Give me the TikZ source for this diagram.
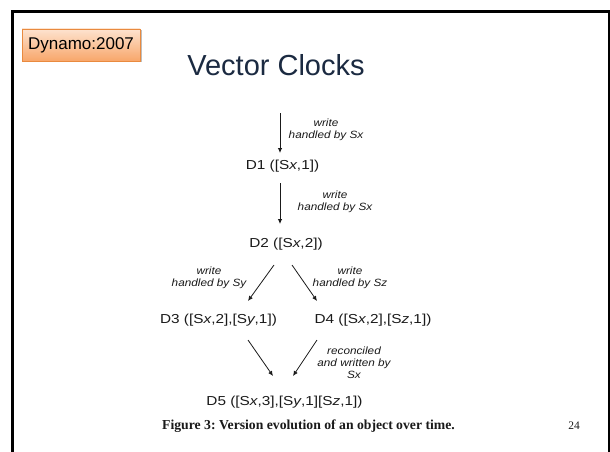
\documentclass[tikz,border=0pt]{standalone}
\usepackage{fontspec}
\usepackage{graphicx}
\setmainfont{Liberation Serif}
\setsansfont{Liberation Sans}
\usetikzlibrary{arrows.meta,calc}
\frenchspacing

\definecolor{titleblue}{HTML}{1B2A41}
\definecolor{tagedge}{HTML}{E98A3F}
\definecolor{tagtop}{HTML}{FDE3CF}
\definecolor{tagbot}{HTML}{F8A66A}
\definecolor{ink}{HTML}{1A1A1A}

% horizontally widened sans text, as in the figure
\newcommand\widetext[2]{\scalebox{#1}[1]{#2}}
\newcommand\ver[1]{\widetext{1.18}{#1}}
\newcommand\lbl[1]{\widetext{1.12}{#1}}

\tikzset{
  version/.style={font=\sffamily\fontsize{13}{15}\selectfont, text=ink, inner sep=0pt, anchor=center},
  note/.style={font=\sffamily\itshape\fontsize{10.5}{12}\selectfont, text=ink, align=center, inner sep=0pt},
  arr/.style={draw=ink, line width=0.8pt, -{Latex[length=5pt,width=4.5pt]}},
}

\begin{document}
\begin{tikzpicture}[x=1pt,y=-1pt]
  \useasboundingbox (0,0) rectangle (610,452);
  \clip (0,0) rectangle (610,452);
  \fill[white] (0,0) rectangle (610,452);

  % slide frame
  \draw[line width=3pt] (12.5,12) rectangle (609,470);

  % tag and title
  \fill[black!25] (23.5,30.5) rectangle (141.5,62.5);
  \node[draw=tagedge, line width=0.8pt, top color=tagtop, bottom color=tagbot,
        minimum width=118pt, minimum height=32pt, inner sep=0pt,
        font=\sffamily\fontsize{17}{20}\selectfont] (tag) at (81,45) {Dynamo:2007};
  \node[font=\sffamily\fontsize{29}{34}\selectfont, text=titleblue] (title) at (276,65) {Vector Clocks};

  % versions
  \node[version] (D1) at (282.5,166) {\ver{D1 ([S\textit{x},1])}};
  \node[version] (D2) at (286,244) {\ver{D2 ([S\textit{x},2])}};
  \node[version] (D3) at (218.5,320) {\ver{D3 ([S\textit{x},2],[S\textit{y},1])}};
  \node[version] (D4) at (373,320) {\ver{D4 ([S\textit{x},2],[S\textit{z},1])}};
  \node[version] (D5) at (284.5,402) {\ver{D5 ([S\textit{x},3],[S\textit{y},1][S\textit{z},1])}};

  % edge notes
  \node[note] (n1) at (326,130) {\lbl{write}\\\lbl{handled by Sx}};
  \node[note] (n2) at (335,201.5) {\lbl{write}\\\lbl{handled by Sx}};
  \node[note] (n3) at (209,277.5) {\lbl{write}\\\lbl{handled by Sy}};
  \node[note] (n4) at (350,277.5) {\lbl{write}\\\lbl{handled by Sz}};
  \node[note] (n5) at (354,362.5) {\lbl{reconciled}\\\lbl{and written by}\\\lbl{Sx}};

  % arrow end points
  \coordinate (in) at (280,113);
  \coordinate (a1) at (280,153);
  \coordinate (b0) at (280,183);
  \coordinate (b1) at (280,224);
  \coordinate (c0) at (274,265);
  \coordinate (c1) at (248,301);
  \coordinate (d0) at (292,265);
  \coordinate (d1) at (317,301);
  \coordinate (e0) at (248,340);
  \coordinate (e1) at (273,376);
  \coordinate (f0) at (317,340);
  \coordinate (f1) at (293,376);

  \draw[arr] (in) -- (a1);
  \draw[arr] (b0) -- (b1);
  \draw[arr] (c0) -- (c1);
  \draw[arr] (d0) -- (d1);
  \draw[arr] (e0) -- (e1);
  \draw[arr] (f0) -- (f1);

  % caption and page number
  \node[font=\rmfamily\bfseries\fontsize{13.7}{16}\selectfont, text=ink] (cap) at (308.5,426)
       {Figure 3: Version evolution of an object over time.};
  \node[font=\rmfamily\fontsize{11.5}{14}\selectfont, text=ink] (pg) at (574,426) {24};
\end{tikzpicture}
\end{document}
